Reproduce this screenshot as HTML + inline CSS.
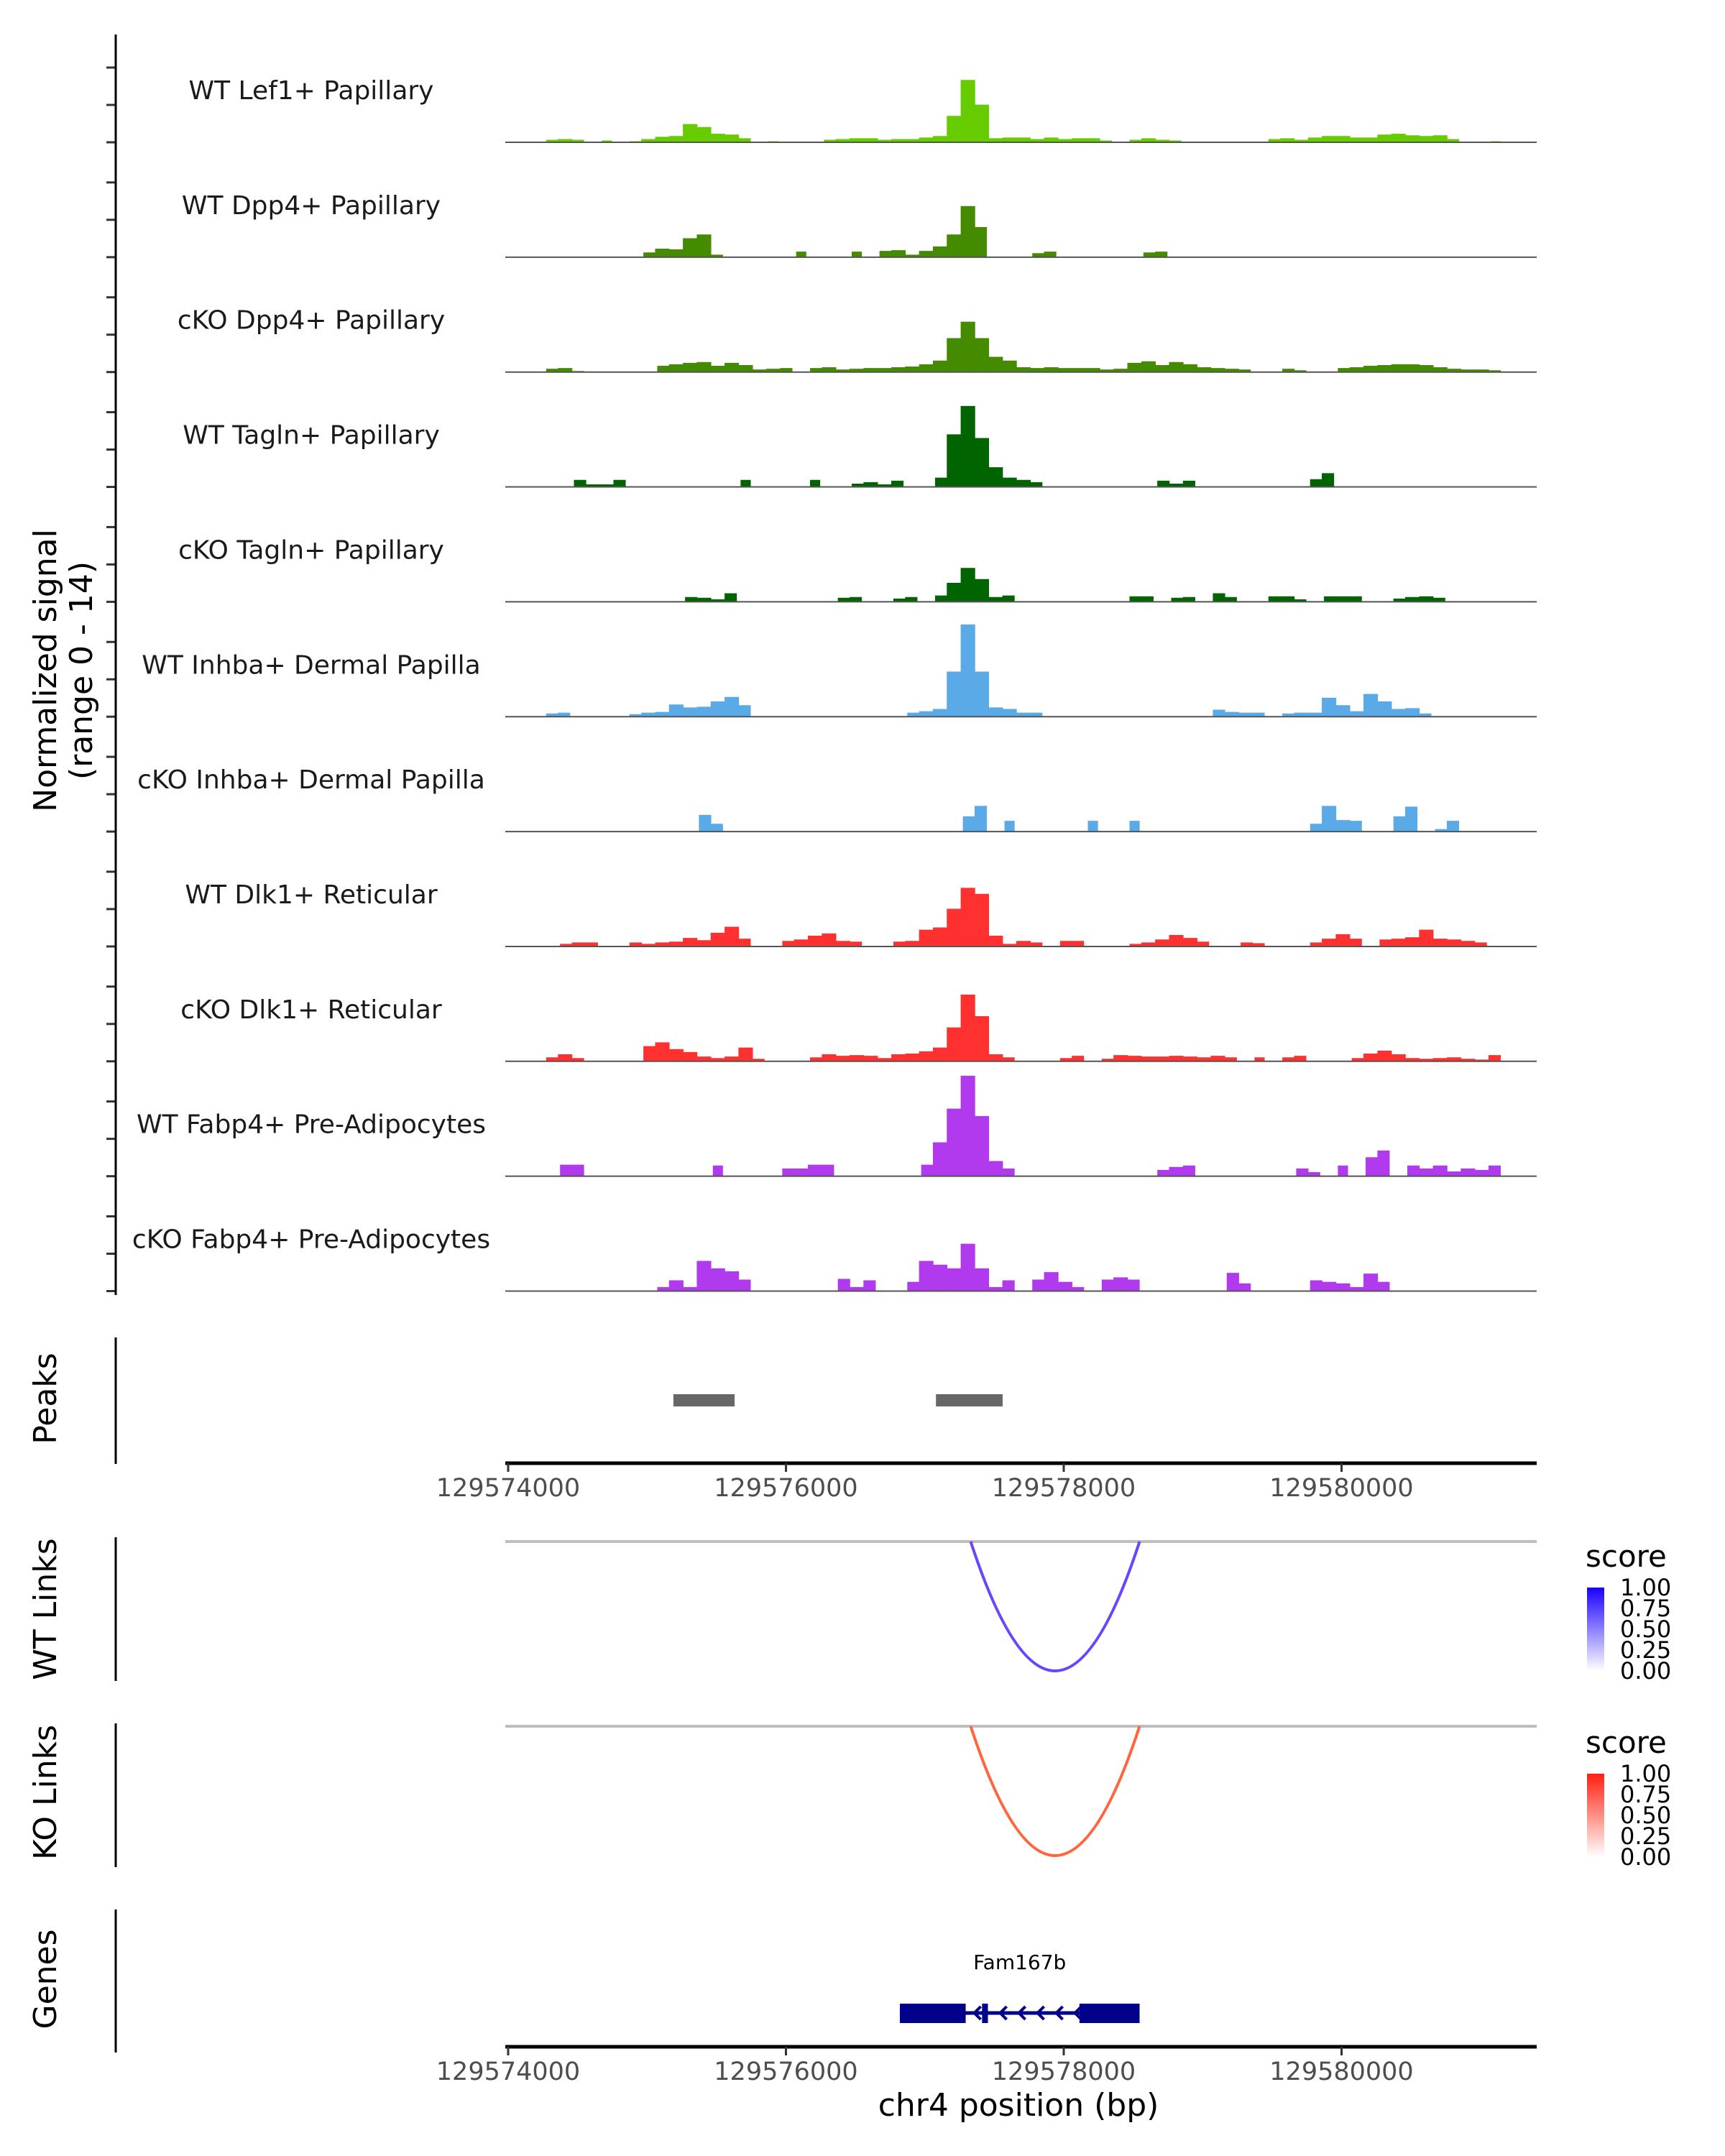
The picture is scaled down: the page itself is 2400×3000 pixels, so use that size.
<!DOCTYPE html>
<html><head><meta charset="utf-8">
<style>
html,body{margin:0;padding:0;background:#fff;}
svg{display:block;}
text{font-family:"DejaVu Sans","Liberation Sans",sans-serif;}
</style></head>
<body>
<svg id="chart" width="2400" height="3000" viewBox="0 0 2400 3000" xmlns="http://www.w3.org/2000/svg">
<g id="g-tracks"></g>
<g id="g-axes"></g>
</svg>
<script>
// ---- data (100bp bins; values in normalized signal units) ----
const binStart = 129573960;
const binSize = 100;
const trackNames = ["WT Lef1+ Papillary","WT Dpp4+ Papillary","cKO Dpp4+ Papillary","WT Tagln+ Papillary","cKO Tagln+ Papillary","WT Inhba+ Dermal Papilla","cKO Inhba+ Dermal Papilla","WT Dlk1+ Reticular","cKO Dlk1+ Reticular","WT Fabp4+ Pre-Adipocytes","cKO Fabp4+ Pre-Adipocytes"];
const trackColors = ["#66cc00","#458b00","#458b00","#006400","#006400","#5aaae8","#5aaae8","#ff3030","#ff3030","#b23aee","#b23aee"];
const sLef1 = {3:0.3,4:0.4,5:0.3,7:0.2,9:0.1,10:0.4,11:0.7,12:0.8,13:2.4,14:2.0,15:1.1,16:1.0,17:0.5,19:0.1,23:0.3,24:0.4,25:0.5,26:0.5,27:0.3,28:0.4,29:0.4,30:0.6,31:0.8,32:3.5,33:8.3,34:5.0,35:0.5,36:0.6,37:0.6,38:0.4,39:0.6,40:0.4,41:0.5,42:0.5,43:0.2,45:0.3,46:0.5,47:0.3,48:0.2,55:0.4,56:0.5,57:0.3,58:0.6,59:0.8,60:0.8,61:0.6,62:0.6,63:1.0,64:1.1,65:0.9,66:0.8,67:0.9,68:0.4,71:0.1};
const sWTDpp4 = {10:0.6,11:1.1,12:1.0,13:2.5,14:3.0,15:0.3,21:0.7,25:0.7,27:0.8,28:0.9,29:0.3,30:0.8,31:1.4,32:3.0,33:6.8,34:4.0,38:0.5,39:0.7,46:0.6,47:0.7};
const sKODpp4 = {3:0.4,4:0.5,5:0.1,11:0.8,12:1.0,13:1.2,14:1.3,15:0.8,16:1.2,17:0.9,18:0.3,19:0.4,20:0.5,22:0.5,23:0.6,24:0.3,25:0.4,26:0.5,27:0.5,28:0.6,29:0.7,30:1.0,31:1.5,32:4.5,33:6.7,34:4.5,35:2.0,36:1.5,37:0.6,38:0.5,39:0.6,40:0.5,41:0.5,42:0.5,43:0.3,44:0.4,45:1.2,46:1.4,47:0.9,48:1.3,49:1.0,50:0.6,51:0.5,52:0.4,53:0.3,56:0.4,57:0.2,60:0.5,61:0.6,62:0.8,63:0.9,64:1.0,65:1.0,66:0.9,67:0.6,68:0.4,69:0.3,70:0.3,71:0.2};
const sWTTagln = {5:0.9,6:0.3,7:0.3,8:0.9,17:0.9,22:0.9,25:0.4,26:0.6,27:0.3,28:0.8,31:1.2,32:7.0,33:10.8,34:6.5,35:2.6,36:1.2,37:0.9,38:0.6,47:0.8,48:0.4,49:0.8,58:1.0,59:1.8};
const sKOTagln = {13:0.6,14:0.5,15:0.3,16:1.1,24:0.5,25:0.6,28:0.4,29:0.6,31:0.8,32:2.5,33:4.5,34:3.0,35:0.6,36:0.8,45:0.7,46:0.7,48:0.5,49:0.6,51:1.1,52:0.6,55:0.7,56:0.7,57:0.3,59:0.7,60:0.7,61:0.7,64:0.4,65:0.6,66:0.7,67:0.5};
const sWTInhba = {3:0.4,4:0.5,9:0.3,10:0.5,11:0.6,12:1.6,13:1.2,14:1.3,15:2.0,16:2.6,17:1.5,29:0.5,30:0.7,31:1.0,32:6.0,33:12.3,34:6.0,35:1.2,36:1.0,37:0.5,38:0.5,51:0.9,52:0.6,53:0.5,54:0.5,56:0.4,57:0.5,58:0.5,59:2.5,60:1.5,61:0.7,62:3.0,63:2.0,64:1.0,65:1.1,66:0.4};
const sKOInhba = {14:2.2,15:1.0,33:2.0,34:3.4,36:1.4,42:1.4,45:1.4,58:1.0,59:3.4,60:1.5,61:1.4,64:2.0,65:3.3,67:0.3,68:1.4};
const sWTDlk1 = {4:0.3,5:0.5,6:0.5,9:0.5,10:0.3,11:0.5,12:0.6,13:1.1,14:0.8,15:1.8,16:2.6,17:1.0,20:0.7,21:0.9,22:1.4,23:1.7,24:0.7,25:0.6,28:0.6,29:0.7,30:2.2,31:2.5,32:5.0,33:7.8,34:7.0,35:1.4,36:0.3,37:0.7,38:0.5,40:0.7,41:0.7,45:0.3,46:0.5,47:0.9,48:1.5,49:1.1,50:0.6,53:0.5,54:0.4,58:0.5,59:1.0,60:1.6,61:1.0,63:0.9,64:1.0,65:1.2,66:2.2,67:1.0,68:0.9,69:0.7,70:0.5};
const sKODlk1 = {3:0.5,4:0.9,5:0.4,10:2.0,11:2.5,12:1.6,13:1.2,14:0.6,15:0.4,16:0.6,17:1.8,18:0.3,22:0.5,23:0.9,24:0.7,25:0.8,26:0.7,27:0.4,28:0.9,29:1.0,30:1.3,31:1.8,32:4.5,33:8.9,34:6.0,35:0.9,36:0.5,40:0.4,41:0.7,43:0.3,44:0.8,45:0.7,46:0.6,47:0.6,48:0.7,49:0.6,50:0.5,51:0.7,52:0.5,54:0.5,56:0.5,57:0.7,61:0.4,62:1.0,63:1.4,64:0.9,65:0.4,66:0.3,67:0.4,68:0.5,69:0.3,70:0.2,71:0.8};
const sWTFabp4 = {4:1.5,5:1.5,15:1.4,20:1.0,21:1.0,22:1.5,23:1.5,30:1.5,31:4.5,32:9.0,33:13.4,34:8.0,35:2.0,36:1.0,47:0.8,48:1.2,49:1.4,57:1.0,58:0.5,60:1.4,62:2.5,63:3.4,65:1.4,66:1.0,67:1.4,68:0.6,69:1.0,70:0.8,71:1.4};
const sKOFabp4 = {11:0.5,12:1.4,13:0.5,14:4.0,15:3.0,16:2.6,17:1.5,24:1.6,25:0.5,26:1.4,29:1.2,30:4.0,31:3.5,32:3.0,33:6.3,34:3.0,35:0.5,36:1.4,38:1.5,39:2.5,40:1.2,41:0.5,43:1.5,44:1.8,45:1.5,52:2.4,53:1.0,58:1.4,59:1.2,60:1.0,61:0.5,62:2.3,63:1.2};
const trackSeries = [sLef1,sWTDpp4,sKODpp4,sWTTagln,sKOTagln,sWTInhba,sKOInhba,sWTDlk1,sKODlk1,sWTFabp4,sKOFabp4];
const nBins = 74;
const xTicks = [129574000,129576000,129578000,129580000];
const peakStarts = [129575190,129577080];
const peakEnds = [129575630,129577560];
const wtLinkStart = [129577330], wtLinkEnd = [129578546], wtLinkScore = [0.75];
const koLinkStart = [129577330], koLinkEnd = [129578546], koLinkScore = [0.75];
const geneName = "Fam167b";
const geneStart = 129576820, geneEnd = 129578546;
const exonStarts = [129576820,129577412,129578113];
const exonEnds = [129577294,129577454,129578546];
const legendLabels = ["1.00","0.75","0.50","0.25","0.00"];

// ---- scales ----
const NS="http://www.w3.org/2000/svg";
const X0=707, PXBP=386.5/2000, PLOT_L=703, PLOT_R=2138;
function xs(bp){return X0+(bp-129574000)*PXBP;}
const BASE0=198, TRACK_STEP=159.85, UNIT=10.4;
function baseY(k){return BASE0+k*TRACK_STEP;}
function ys(k,v){return baseY(k)-v*UNIT;}
function mk(tag,attrs,parent,txt){const e=document.createElementNS(NS,tag);for(const a in attrs)e.setAttribute(a,attrs[a]);if(txt!==undefined)e.textContent=txt;parent.appendChild(e);return e;}
const svg=document.getElementById('chart');
const gT=document.getElementById('g-tracks');
const gA=document.getElementById('g-axes');

// coverage tracks
trackNames.forEach((nm,k)=>{
  const g=mk('g',{},gT);
  
  
  const s=trackSeries[k];
  let d='';
  for(let i=0;i<nBins;i++){
    const v=s[i]||0; if(v<=0) continue;
    const bs=binStart+i*binSize, be=bs+binSize;
    const xa=xs(bs), xb=xs(be), y0=baseY(k), y1=ys(k,v);
    const sl=Math.min(3,(xb-xa)/4);
    const pv=s[i-1]||0, nv=s[i+1]||0;
    d+=`M${xa+(pv>0?0:sl)},${y0}L${xa+(pv>0?0:sl)},${y1}L${xb-(nv>0?0:sl)},${y1}L${xb-(nv>0?0:sl)},${y0}Z`;
  }
  const p=mk('path',{d:d,fill:trackColors[k],stroke:trackColors[k],'stroke-width':'0.8'},g);
  
  
  const bl=mk('line',{x1:PLOT_L,x2:PLOT_R,y1:baseY(k),y2:baseY(k),stroke:'#555',"stroke-width":2},g);
  
  
  const t=mk('text',{x:433,y:baseY(k)-60,'font-size':36,'text-anchor':'middle',fill:'#1a1a1a'},g,nm);
  
  
  [0,52,104].forEach(o=>{
    const tk=mk('line',{x1:148,x2:161,y1:baseY(k)-o,y2:baseY(k)-o,stroke:'#333','stroke-width':3},gA);
    
    
  });
});
let e;
e=mk('line',{x1:161,x2:161,y1:48,y2:1802,stroke:'#000','stroke-width':3},gA);


e=mk('text',{transform:'translate(78,933) rotate(-90)','font-size':44,'text-anchor':'middle',fill:'#000'},gA,'Normalized signal');


e=mk('text',{transform:'translate(128,933) rotate(-90)','font-size':44,'text-anchor':'middle',fill:'#000'},gA,'(range 0 - 14)');



// side panel axes & labels
const panels=[["Peaks",1861,2037,1946],["WT Links",2139,2339,2239],["KO Links",2398,2598,2494],["Genes",2657,2856,2754]];
panels.forEach(p=>{
  const a=mk('line',{x1:161,x2:161,y1:p[1],y2:p[2],stroke:'#000','stroke-width':3},gA);
  
  
  const t=mk('text',{transform:`translate(78,${p[3]}) rotate(-90)`,'font-size':44,'text-anchor':'middle',fill:'#000'},gA,p[0]);
  
  
});

// peaks
peakStarts.forEach((s,i)=>{
  const r=mk('rect',{x:xs(s),y:1940,width:xs(peakEnds[i])-xs(s),height:17,fill:'#676767'},gA);
  
  
});

// x axes
function xAxis(y,name){
  const g=mk('g',{},gA);
  
  
  mk('line',{x1:PLOT_L,x2:PLOT_R,y1:y,y2:y,stroke:'#000','stroke-width':5},g);
  xTicks.forEach(t=>{
    const tk=mk('line',{x1:xs(t),x2:xs(t),y1:y,y2:y+12,stroke:'#333','stroke-width':3},g);
    
    
    const lb=mk('text',{x:xs(t),y:y+46,'font-size':35,'text-anchor':'middle',fill:'#4d4d4d'},g,String(t));
    
    
  });
}
xAxis(2036,'peaks-x-axis');
xAxis(2848,'bottom-x-axis');
e=mk('text',{x:1417,y:2944,'font-size':44,'text-anchor':'middle',fill:'#000'},gA,'chr4 position (bp)');



// links
function links(lineY,depth,st,en,sc,color,name){
  const g=mk('g',{},gA);
  
  
  mk('line',{x1:PLOT_L,x2:PLOT_R,y1:lineY,y2:lineY,stroke:'#bebebe','stroke-width':4},g);
  st.forEach((s,i)=>{
    const a=xs(s), b=xs(en[i]);
    const p=mk('path',{d:`M${a},${lineY}Q${(a+b)/2},${lineY+2*depth} ${b},${lineY}`,fill:'none',stroke:color,'stroke-width':4},g);
    
    
  });
}
links(2145,180,wtLinkStart,wtLinkEnd,wtLinkScore,'#6a45ff','wt-links');
links(2402,180,koLinkStart,koLinkEnd,koLinkScore,'#ff6640','ko-links');

// legends
const defs=mk('defs',{},svg);
const gb=mk('linearGradient',{id:'gblue',x1:0,y1:1,x2:0,y2:0},defs);
mk('stop',{offset:0,'stop-color':'#ffffff'},gb);mk('stop',{offset:1,'stop-color':'#1a00ff'},gb);
const gr=mk('linearGradient',{id:'gred',x1:0,y1:1,x2:0,y2:0},defs);
mk('stop',{offset:0,'stop-color':'#ffffff'},gr);mk('stop',{offset:1,'stop-color':'#ff2010'},gr);
function legend(top,grad,name){
  const g=mk('g',{},gA);
  
  
  mk('text',{x:2206,y:top,'font-size':42,fill:'#000'},g,'score');
  mk('rect',{x:2208,y:top+29,width:24,height:116,fill:`url(#${grad})`},g);
  legendLabels.forEach((l,i)=>{
    const t=mk('text',{x:2254,y:top+40+i*29,'font-size':32,fill:'#000'},g,l);
    
    
  });
}
legend(2180,'gblue','wt-links-legend');
legend(2439,'gred','ko-links-legend');

// gene
const gg=mk('g',{},gA);


const gy=2801;
mk('line',{x1:xs(geneStart),x2:xs(geneEnd),y1:gy,y2:gy,stroke:'#00008b','stroke-width':5},gg);
exonStarts.forEach((s,i)=>{
  const r=mk('rect',{x:xs(s),y:gy-13,width:xs(exonEnds[i])-xs(s),height:27,fill:'#00008b'},gg);
  
  
});
for(let i=0;i<6;i+=1){
  const ax=xs(exonEnds[0])+12+i*26+(i>0?10:0);
  mk('path',{d:`M${ax+9},${gy-9}L${ax},${gy}L${ax+9},${gy+9}`,fill:'none',stroke:'#00008b','stroke-width':4},gg);
}
e=mk('text',{x:xs((geneStart+geneEnd)/2),y:2740,'font-size':28,'text-anchor':'middle',fill:'#000'},gg,geneName);


</script>
</body></html>
